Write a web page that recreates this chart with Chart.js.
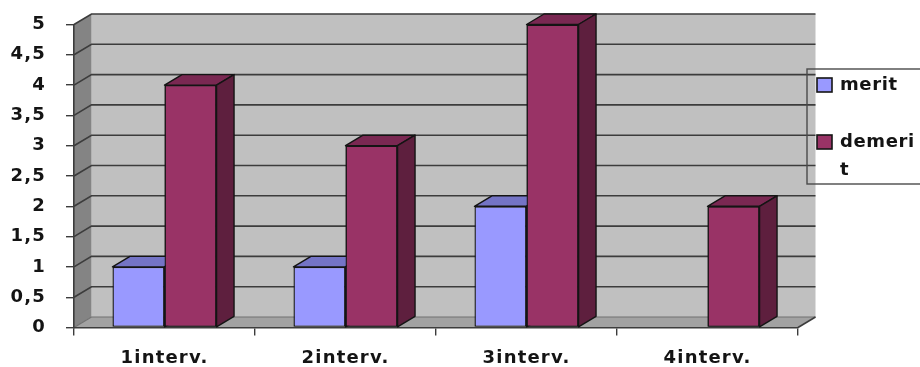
<!DOCTYPE html>
<html>
<head>
<meta charset="utf-8">
<title>merit / demerit</title>
<script src="https://cdn.jsdelivr.net/npm/chart.js@4/dist/chart.umd.min.js"></script>
<style>
  html, body { margin: 0; padding: 0; background: #ffffff; }
  canvas { display: block; }
</style>
</head>
<body>
<canvas id="chart" width="920" height="367"></canvas>
<script>
// Values per interval
const categories = ['1interv.', '2interv.', '3interv.', '4interv.'];
const seriesNames = ['merit', 'demerit'];
const meritValues = [1, 1, 2, 0];
const demeritValues = [4, 3, 5, 2];
const yTickLabels = ['0', '0,5', '1', '1,5', '2', '2,5', '3', '3,5', '4', '4,5', '5'];
// Legend text as it wraps inside the narrow legend box
const legendLines = [['merit'], ['demeri', 't']];

// Depth offset of the pseudo-3D box and the bars
const DX = 17.5;
const DY = -10.5;
const FONT = 'bold 18px "DejaVu Sans", Verdana, sans-serif';
const INK = '#141414';
const GRID = '#3c3c3c';

const faceColors = [
  { front: '#9999FF', top: '#7474C6', side: '#5E5EA0' },
  { front: '#993366', top: '#7A2852', side: '#5E1F3E' }
];

function poly(ctx, pts, fill, stroke, lw) {
  ctx.beginPath();
  ctx.moveTo(pts[0][0], pts[0][1]);
  for (let i = 1; i < pts.length; i++) ctx.lineTo(pts[i][0], pts[i][1]);
  ctx.closePath();
  if (fill) { ctx.fillStyle = fill; ctx.fill(); }
  if (stroke) { ctx.strokeStyle = stroke; ctx.lineWidth = lw || 1; ctx.stroke(); }
}

// top and right side faces of one bar
function barDepth(ctx, bar, c) {
  const p = bar.getProps(['x', 'y', 'base', 'width'], true);
  if (Math.abs(p.base - p.y) < 0.5) return;
  const l = p.x - p.width / 2, r = p.x + p.width / 2;
  poly(ctx, [[l, p.y], [r, p.y], [r + DX, p.y + DY], [l + DX, p.y + DY]], c.top, INK, 1.4);
  poly(ctx, [[r, p.y], [r + DX, p.y + DY], [r + DX, p.base + DY], [r, p.base]], c.side, INK, 1.4);
}

// Walls, floor and the gridlines running across them
const boxPlugin = {
  id: 'box3d',
  beforeDraw(chart) {
    const ctx = chart.ctx;
    ctx.save();
    ctx.fillStyle = '#ffffff';
    ctx.fillRect(0, 0, chart.width, chart.height);
    const a = chart.chartArea;
    const y = chart.scales.y;
    const L = a.left, R = a.right, T = a.top, B = a.bottom;
    // back wall
    poly(ctx, [[L + DX, T + DY], [R + DX, T + DY], [R + DX, B + DY], [L + DX, B + DY]], '#C0C0C0');
    // left wall
    poly(ctx, [[L, B], [L, T], [L + DX, T + DY], [L + DX, B + DY]], '#848484');
    // floor
    poly(ctx, [[L, B], [R, B], [R + DX, B + DY], [L + DX, B + DY]], '#A2A2A2');
    // gridlines on back and left walls
    ctx.strokeStyle = GRID;
    ctx.lineWidth = 1.6;
    y.ticks.forEach(t => {
      if (t.value === 0) return;
      const py = y.getPixelForValue(t.value);
      ctx.beginPath();
      ctx.moveTo(L, py);
      ctx.lineTo(L + DX, py + DY);
      ctx.lineTo(R + DX, py + DY);
      ctx.stroke();
    });
    // floor edges
    ctx.lineWidth = 1.2;
    ctx.strokeStyle = '#707070';
    ctx.beginPath();
    ctx.moveTo(L, B);
    ctx.lineTo(L + DX, B + DY);
    ctx.lineTo(R + DX, B + DY);
    ctx.stroke();
    ctx.strokeStyle = GRID;
    ctx.lineWidth = 1.6;
    ctx.beginPath();
    ctx.moveTo(R, B);
    ctx.lineTo(R + DX, B + DY);
    ctx.stroke();
    ctx.restore();
    try { ctx.letterSpacing = '1.2px'; } catch (e) {}
  },
  afterDatasetsDraw(chart) {
    const ctx = chart.ctx;
    const front = chart.getDatasetMeta(0);
    const back = chart.getDatasetMeta(1);
    ctx.save();
    ctx.lineJoin = 'round';
    categories.forEach((_, i) => {
      barDepth(ctx, front.data[i], faceColors[0]);
      // the neighbouring bar hides the right part of the first bar's top
      back.data[i].draw(ctx);
      barDepth(ctx, back.data[i], faceColors[1]);
    });
    ctx.restore();
  },
  afterDraw(chart) {
    const ctx = chart.ctx;
    ctx.save();
    // legend frame
    ctx.strokeStyle = '#4a4a4a';
    ctx.lineWidth = 1.4;
    ctx.strokeRect(807, 69, 130, 115);
    const rows = [85, 142];
    ctx.font = FONT;
    try { ctx.letterSpacing = '0.6px'; } catch (e) {}
    ctx.textBaseline = 'middle';
    ctx.textAlign = 'left';
    seriesNames.forEach((name, i) => {
      const cy = rows[i];
      ctx.fillStyle = faceColors[i].front;
      ctx.fillRect(817, cy - 7, 15, 14);
      ctx.strokeStyle = INK;
      ctx.lineWidth = 1.6;
      ctx.strokeRect(817, cy - 7, 15, 14);
      ctx.fillStyle = INK;
      legendLines[i].forEach((line, k) => {
        ctx.fillText(line, 840, cy + k * 28);
      });
    });
    ctx.restore();
  }
};

new Chart(document.getElementById('chart'), {
  type: 'bar',
  data: {
    labels: categories,
    datasets: [
      {
        label: seriesNames[0],
        data: meritValues,
        backgroundColor: faceColors[0].front,
        borderColor: INK,
        borderWidth: 1.4,
        borderSkipped: false
      },
      {
        label: seriesNames[1],
        data: demeritValues,
        backgroundColor: faceColors[1].front,
        borderColor: INK,
        borderWidth: 1.4,
        borderSkipped: false
      }
    ]
  },
  options: {
    responsive: false,
    animation: false,
    devicePixelRatio: 1,
    events: [],
    layout: { padding: { top: 24.5, right: 122, left: 0, bottom: 0 } },
    categoryPercentage: 0.575,
    barPercentage: 1,
    plugins: { legend: { display: false }, tooltip: { enabled: false } },
    scales: {
      x: {
        afterFit(scale) {
          scale.height = 39.5;
          scale.paddingLeft = 0;
          scale.paddingRight = 0;
        },
        grid: {
          offset: true,
          drawOnChartArea: false,
          drawTicks: true,
          tickLength: 8,
          color: GRID,
          lineWidth: 1.4
        },
        border: { display: true, color: GRID, width: 1.6 },
        ticks: {
          color: INK,
          font: { family: '"DejaVu Sans", Verdana, sans-serif', size: 18, weight: 'bold' },
          padding: 12,
          maxRotation: 0
        }
      },
      y: {
        min: 0,
        max: 5,
        afterFit(scale) {
          scale.width = 74;
          scale.paddingTop = 0;
          scale.paddingBottom = 0;
        },
        grid: {
          drawOnChartArea: false,
          drawTicks: true,
          tickLength: 8,
          color: GRID,
          lineWidth: 1.4
        },
        border: { display: true, color: GRID, width: 1.6 },
        ticks: {
          stepSize: 0.5,
          color: INK,
          padding: 20,
          font: { family: '"DejaVu Sans", Verdana, sans-serif', size: 18, weight: 'bold' },
          callback: (v, i) => yTickLabels[i]
        }
      }
    }
  },
  plugins: [boxPlugin]
});
</script>
</body>
</html>
